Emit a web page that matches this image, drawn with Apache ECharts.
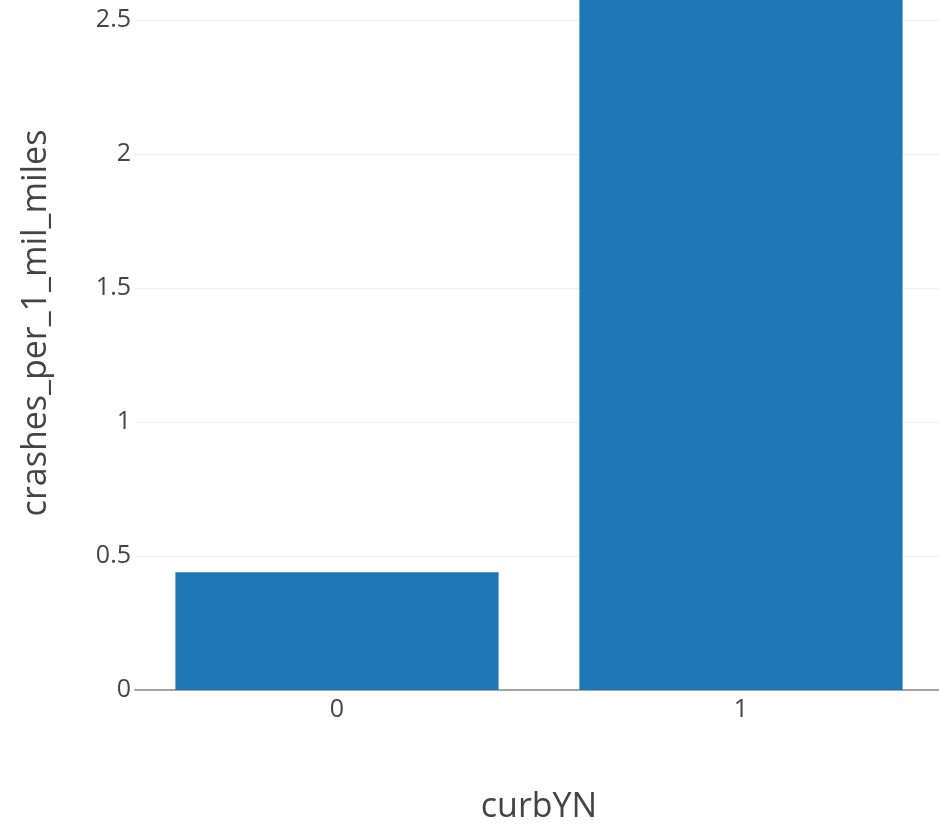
<!DOCTYPE html>
<html>
<head>
<meta charset="utf-8">
<script src="https://cdn.jsdelivr.net/npm/echarts@6/dist/echarts.min.js"></script>
<style>html,body{margin:0;padding:0;background:#fff;}#chart{width:939px;height:825px;}</style>
</head>
<body>
<div id="chart"></div>
<script>
const categories = ['0', '1'];
const crashValues = [0.44, 2.61];
const yTicks = [0, 0.5, 1, 1.5, 2, 2.5];
const xTitle = 'curbYN';
const yTitle = 'crashes_per_1_mil_miles';
const yMax = 2.74;

const chart = echarts.init(document.getElementById('chart'));
chart.setOption({
  animation: false,
  grid: { left: 135, right: -4, top: -44, bottom: 135, containLabel: false, outerBoundsMode: 'none' },
  xAxis: {
    type: 'category',
    data: categories,
    name: xTitle,
    nameLocation: 'middle',
    nameGap: 100,
    nameTextStyle: { fontFamily: 'Open Sans', fontSize: 34, color: '#444' },
    axisLine: { show: true, lineStyle: { color: '#a4a4a4', width: 2 } },
    axisTick: { show: false },
    axisLabel: { fontFamily: 'Open Sans', fontSize: 25, color: '#444', margin: 7 }
  },
  yAxis: {
    type: 'value',
    min: 0,
    max: yMax,
    interval: 0.5,
    name: yTitle,
    nameLocation: 'middle',
    nameGap: 82,
    nameTextStyle: { fontFamily: 'Open Sans', fontSize: 34, color: '#444' },
    axisLine: { show: false },
    axisTick: { show: false },
    axisLabel: { fontFamily: 'Open Sans', fontSize: 25, color: '#444', margin: 4, showMaxLabel: false,
      formatter: v => (yTicks.includes(v) ? String(v) : '') },
    splitLine: { show: true, lineStyle: { color: '#eeeeee', width: 1 } }
  },
  series: [{
    type: 'bar',
    data: crashValues,
    barCategoryGap: '20%',
    itemStyle: { color: '#1f77b4' }
  }]
});
</script>
</body>
</html>
